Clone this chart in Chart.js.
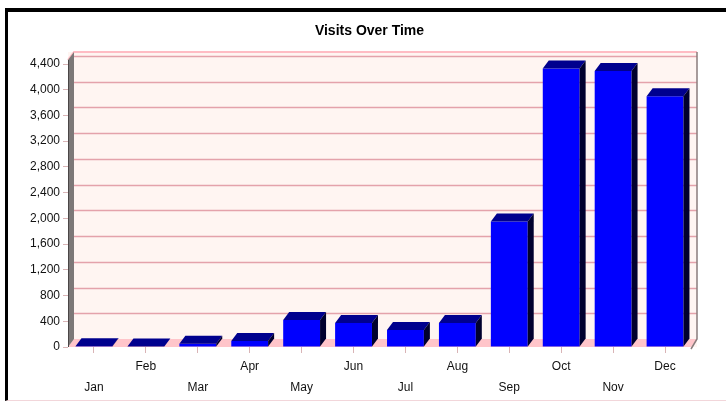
<!DOCTYPE html>
<html>
<head>
<meta charset="utf-8">
<title>Visits Over Time</title>
<script src="https://cdn.jsdelivr.net/npm/chart.js@4"></script>
<style>
    html, body { margin: 0; padding: 0; background: #fff; }
    #wrap { position: relative; width: 726px; height: 403px; overflow: hidden; }
    #frame {
        position: absolute; left: 5px; top: 8px; right: 0; bottom: 2px;
        border-top: 4px solid #000; border-left: 3px solid #000;
        border-bottom: 1px solid #f2d6da;
        pointer-events: none;
    }
</style>
</head>
<body>
<div id="wrap">
    <canvas id="visitsChart" width="726" height="403"></canvas>
    <div id="frame"></div>
</div>
<script>
// Chart data
const months = ['Jan', 'Feb', 'Mar', 'Apr', 'May', 'Jun', 'Jul', 'Aug', 'Sep', 'Oct', 'Nov', 'Dec'];
const visits = [10, 8, 50, 95, 420, 375, 265, 375, 1950, 4330, 4290, 3900];
const yMax = 4400;
const yStep = 400;

// 3D look: depth of bars / walls
const depthX = 6;
const depthY = 8;

const threeD = {
    id: 'threeD',
    afterLayout(chart) {
        // the y axis is kept narrow so the title centres like the original,
        // let its labels spill into the left padding instead of being clipped
        chart.scales.y.left = 0;
    },
    beforeDatasetsDraw(chart) {
        const ctx = chart.ctx;
        const a = chart.chartArea;
        const y = chart.scales.y;
        const wallTop = a.top - depthY - 4;

        ctx.save();

        // back wall
        ctx.fillStyle = '#fff5f2';
        ctx.fillRect(a.left, wallTop, a.right + depthX - a.left, a.bottom - wallTop);

        // grid lines on the back wall
        ctx.strokeStyle = '#e4a2ab';
        ctx.lineWidth = 1.5;
        for (let v = yStep; v <= yMax; v += yStep) {
            const yy = Math.round(y.getPixelForValue(v) - depthY) + 0.5;
            ctx.beginPath();
            ctx.moveTo(a.left + depthX, yy);
            ctx.lineTo(a.right + depthX, yy);
            ctx.stroke();
        }

        // top edge of the wall
        ctx.strokeStyle = '#ffbcc4';
        ctx.lineWidth = 2;
        ctx.beginPath();
        ctx.moveTo(a.left, wallTop + depthY);
        ctx.lineTo(a.left + depthX, wallTop);
        ctx.lineTo(a.right + depthX, wallTop);
        ctx.stroke();

        // floor
        ctx.fillStyle = '#ffc5ca';
        ctx.beginPath();
        ctx.moveTo(a.left, a.bottom);
        ctx.lineTo(a.right, a.bottom);
        ctx.lineTo(a.right + depthX, a.bottom - depthY);
        ctx.lineTo(a.left + depthX, a.bottom - depthY);
        ctx.closePath();
        ctx.fill();

        // left wall
        ctx.fillStyle = '#7c7878';
        ctx.beginPath();
        ctx.moveTo(a.left, a.bottom);
        ctx.lineTo(a.left + depthX, a.bottom - depthY);
        ctx.lineTo(a.left + depthX, wallTop);
        ctx.lineTo(a.left, wallTop + depthY);
        ctx.closePath();
        ctx.fill();
        ctx.strokeStyle = '#4a4646';
        ctx.lineWidth = 1;
        ctx.beginPath();
        ctx.moveTo(a.left + 0.5, a.bottom);
        ctx.lineTo(a.left + 0.5, wallTop + depthY);
        ctx.stroke();

        // right edge
        ctx.strokeStyle = '#8a7c7c';
        ctx.lineWidth = 1.5;
        ctx.beginPath();
        ctx.moveTo(a.right + depthX, wallTop);
        ctx.lineTo(a.right + depthX, a.bottom - depthY);
        ctx.lineTo(a.right, a.bottom + 2);
        ctx.stroke();

        ctx.restore();
    },
    afterDatasetsDraw(chart) {
        const ctx = chart.ctx;
        const meta = chart.getDatasetMeta(0);
        ctx.save();
        meta.data.forEach(function(bar) {
            const p = bar.getProps(['x', 'y', 'base', 'width'], true);
            const l = p.x - p.width / 2;
            const r = p.x + p.width / 2;

            // top face
            ctx.fillStyle = '#00008e';
            ctx.beginPath();
            ctx.moveTo(l, p.y);
            ctx.lineTo(r, p.y);
            ctx.lineTo(r + depthX, p.y - depthY);
            ctx.lineTo(l + depthX, p.y - depthY);
            ctx.closePath();
            ctx.fill();

            // side face
            ctx.fillStyle = '#00002e';
            ctx.beginPath();
            ctx.moveTo(r, p.y);
            ctx.lineTo(r + depthX, p.y - depthY);
            ctx.lineTo(r + depthX, p.base - depthY);
            ctx.lineTo(r, p.base);
            ctx.closePath();
            ctx.fill();
        });
        ctx.restore();
    }
};

const ctx = document.getElementById('visitsChart');
new Chart(ctx, {
    type: 'bar',
    data: {
        labels: months,
        datasets: [{
            label: 'Visits',
            data: visits,
            backgroundColor: '#0000ff',
            borderWidth: 0,
            barPercentage: 0.71,
            categoryPercentage: 1.0
        }]
    },
    options: {
        responsive: false,
        animation: false,
        devicePixelRatio: 1,
        layout: {
            padding: { left: 48, right: 35, top: 12, bottom: 0 }
        },
        scales: {
            x: {
                afterFit: function(scale) { scale.height = 56; },
                grid: {
                    offset: false,
                    drawOnChartArea: false,
                    tickLength: 6,
                    color: '#d9b4b6'
                },
                border: { display: false },
                ticks: {
                    padding: 3.5,
                    color: '#111',
                    font: { family: 'Liberation Sans, Arial, sans-serif', size: 12, lineHeight: 1.75 },
                    maxRotation: 0,
                    autoSkip: false,
                    callback: function(value, index) {
                        // stagger the month labels on two rows
                        return index % 2 === 0 ? ['', months[index]] : months[index];
                    }
                }
            },
            y: {
                min: 0,
                max: yMax,
                afterFit: function(scale) { scale.width = 20; },
                grid: {
                    drawOnChartArea: false,
                    tickLength: 5,
                    color: '#d9b4b6'
                },
                border: { display: false },
                ticks: {
                    stepSize: yStep,
                    padding: 3,
                    color: '#111',
                    font: { family: 'Liberation Sans, Arial, sans-serif', size: 12 },
                    callback: function(value) {
                        return value.toLocaleString('en-US');
                    }
                }
            }
        },
        plugins: {
            legend: { display: false },
            tooltip: { enabled: false },
            title: {
                display: true,
                text: 'Visits Over Time',
                color: '#000',
                font: { family: 'Liberation Sans, Arial, sans-serif', size: 14, weight: 'bold' },
                padding: { top: 10.6, bottom: 24.6 }
            }
        }
    },
    plugins: [threeD]
});
</script>
</body>
</html>
